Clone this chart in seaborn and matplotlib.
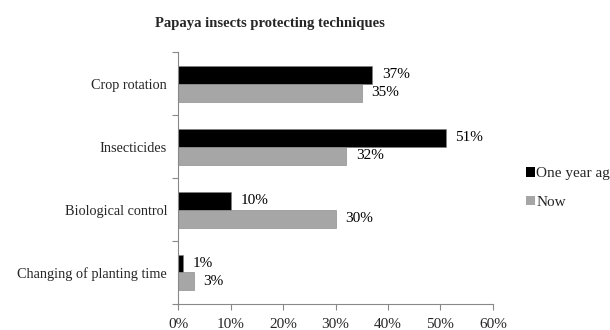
import matplotlib
matplotlib.use("Agg")
import matplotlib.pyplot as plt
from matplotlib.patches import Patch
from matplotlib.ticker import FixedLocator
import seaborn as sns
import pandas as pd

categories = ["Crop rotation", "Insecticides", "Biological control", "Changing of planting time"]
one_year_ago = [37, 51, 10, 1]
now = [35, 32, 30, 3]
series_names = ["One year ago", "Now"]
x_ticks = [0, 10, 20, 30, 40, 50, 60]
x_tick_labels = ["0%", "10%", "20%", "30%", "40%", "50%", "60%"]

df = pd.DataFrame({
    "technique": categories * 2,
    "period": [series_names[0]] * len(categories) + [series_names[1]] * len(categories),
    "share": one_year_ago + now,
})

sns.set_theme(style="white")
plt.rcParams["font.family"] = ["Liberation Serif", "DejaVu Serif"]

colors = {"One year ago": "#000000", "Now": "#a6a6a6"}

fig = plt.figure(figsize=(6.1, 3.3), dpi=100)
ax = fig.add_axes([0.292, 0.079, 0.516, 0.762])

sns.barplot(data=df, y="technique", x="share", hue="period", order=categories,
            hue_order=series_names, palette=colors, orient="h", width=0.57,
            dodge=True, ax=ax, legend=False, edgecolor="#7f7f7f", linewidth=0.4,
            saturation=1)

for container in ax.containers:
    ax.bar_label(container, labels=[f"{v:g}%" for v in container.datavalues],
                 padding=7, fontsize=11, color="#000000")

ax.set_xlim(0, 60)
ax.set_ylim(len(categories) - 0.5, -0.5)
ax.set_xticks(x_ticks)
ax.set_xticklabels(x_tick_labels, fontsize=11)
ax.tick_params(axis="x", length=4, width=0.8, color="#888888", direction="out", pad=6, bottom=True)
ax.tick_params(axis="y", which="major", length=0, labelsize=10.3, pad=8)
ax.yaxis.set_minor_locator(FixedLocator([i - 0.5 for i in range(len(categories) + 1)]))
ax.tick_params(axis="y", which="minor", length=4, width=0.8, color="#888888", left=True)
ax.set_xlabel("")
ax.set_ylabel("")

for side in ["top", "right"]:
    ax.spines[side].set_visible(False)
for side in ["left", "bottom"]:
    ax.spines[side].set_color("#888888")
    ax.spines[side].set_linewidth(0.8)

fig.suptitle("Papaya insects protecting techniques", x=0.442, y=0.93, va="center",
             fontsize=10.5, fontweight="bold")

handles = [Patch(facecolor=colors[s], edgecolor="none") for s in series_names]
fig.legend(handles, series_names, loc="center left", bbox_to_anchor=(0.863, 0.43),
           frameon=False, fontsize=11, handlelength=0.55, handleheight=0.6,
           handletextpad=0.1, labelspacing=1.0, borderaxespad=0, borderpad=0)

fig.savefig("out.png", dpi=100)
